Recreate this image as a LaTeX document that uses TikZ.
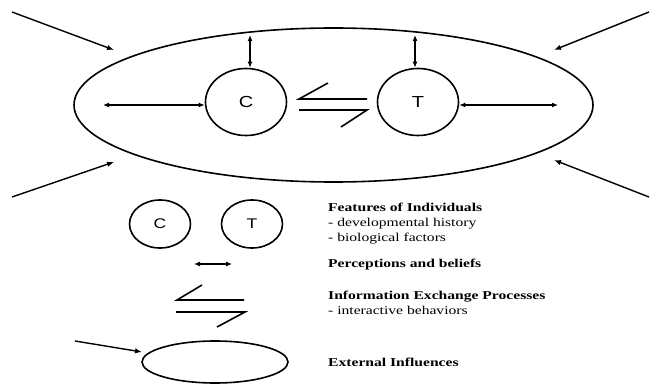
\documentclass[tikz,border=0pt]{standalone}
\usepackage{fontspec}
\setmainfont{Liberation Serif}
\newfontfamily\legendfont[FakeStretch=1.3]{Liberation Serif}
\newfontfamily\letterfont[FakeStretch=1.25]{Liberation Sans}
\usetikzlibrary{positioning, arrows.meta, shapes.geometric}

\begin{document}
\begin{tikzpicture}[x=1pt, y=-1pt]
	% Define styles
	\tikzset{
		ring/.style={ellipse, draw, line width=1.6pt, inner sep=0pt},
		person/.style={ring, minimum width=81pt, minimum height=67pt, font=\letterfont\fontsize{16}{16}\selectfont},
		mini/.style={ring, minimum width=61pt, minimum height=48pt, font=\letterfont\fontsize{14}{14}\selectfont},
		line/.style={draw, line width=1.3pt, {Latex[length=6pt,width=5pt]}-{Latex[length=6pt,width=5pt]}},
		inflow/.style={draw, line width=1.4pt, -{Latex[length=7pt,width=5.5pt]}},
		swap/.style={draw, line width=1.6pt},
		legend/.style={anchor=north west, align=left, inner sep=0pt, font=\legendfont\fontsize{12}{15}\selectfont}
	}
	\useasboundingbox (0,0) rectangle (650,385);
	
	% Nodes
	\node[ring, minimum width=519pt, minimum height=154pt] (ctx) at (333.5,105) {};
	\node[person] (c) at (246,102) {C};
	\node[person] (t) at (418,102) {T};
	
	\node[mini] (lc) at (160,224) {C};
	\node[mini] (lt) at (252,224) {T};
	\node[ring, minimum width=146pt, minimum height=42pt] (ext) at (215,362) {};
	
	\node[legend] (feat) at (328,203) {\textbf{Features of Individuals}\\- developmental history\\- biological factors};
	\node[legend] (perc) at (328,259) {\textbf{Perceptions and beliefs}};
	\node[legend] (info) at (328,291) {\textbf{Information Exchange Processes}\\- interactive behaviors};
	\node[legend] (extl) at (328,358) {\textbf{External Influences}};
	
	% Free ends
	\coordinate (ctop) at (250,35);
	\coordinate (ttop) at (415,35);
	\coordinate (cleft) at (103,105);
	\coordinate (tright) at (558,105);
	\coordinate (nw0) at (12,12);
	\coordinate (nw1) at (114,50);
	\coordinate (ne0) at (649,12);
	\coordinate (ne1) at (554,50);
	\coordinate (sw0) at (12,197);
	\coordinate (sw1) at (114,162);
	\coordinate (se0) at (649,197);
	\coordinate (se1) at (554,160);
	\coordinate (la) at (194,264);
	\coordinate (lb) at (232,264);
	\coordinate (ex0) at (75,341);
	\coordinate (ex1) at (142,352);
	
	% Arrows
	\draw[line] (ctop) -- (ctop |- c.north);
	\draw[line] (ttop) -- (ttop |- t.north);
	\draw[line] (cleft) -- (c.west |- cleft);
	\draw[line] (t.east |- tright) -- (tright);
	\draw[line, line width=1.1pt] (la) -- (lb);
	
	\draw[inflow] (nw0) -- (nw1);
	\draw[inflow] (ne0) -- (ne1);
	\draw[inflow] (sw0) -- (sw1);
	\draw[inflow] (se0) -- (se1);
	\draw[inflow] (ex0) -- (ex1);
	
	% Exchange symbols
	\draw[swap] (328,83) -- (299,99) -- (367,99);
	\draw[swap] (299,110) -- (367,110) -- (341,127);
	\draw[swap] (202,285) -- (177,300) -- (244,300);
	\draw[swap] (176,312) -- (245,312) -- (217,327);
	
\end{tikzpicture}
\end{document}
